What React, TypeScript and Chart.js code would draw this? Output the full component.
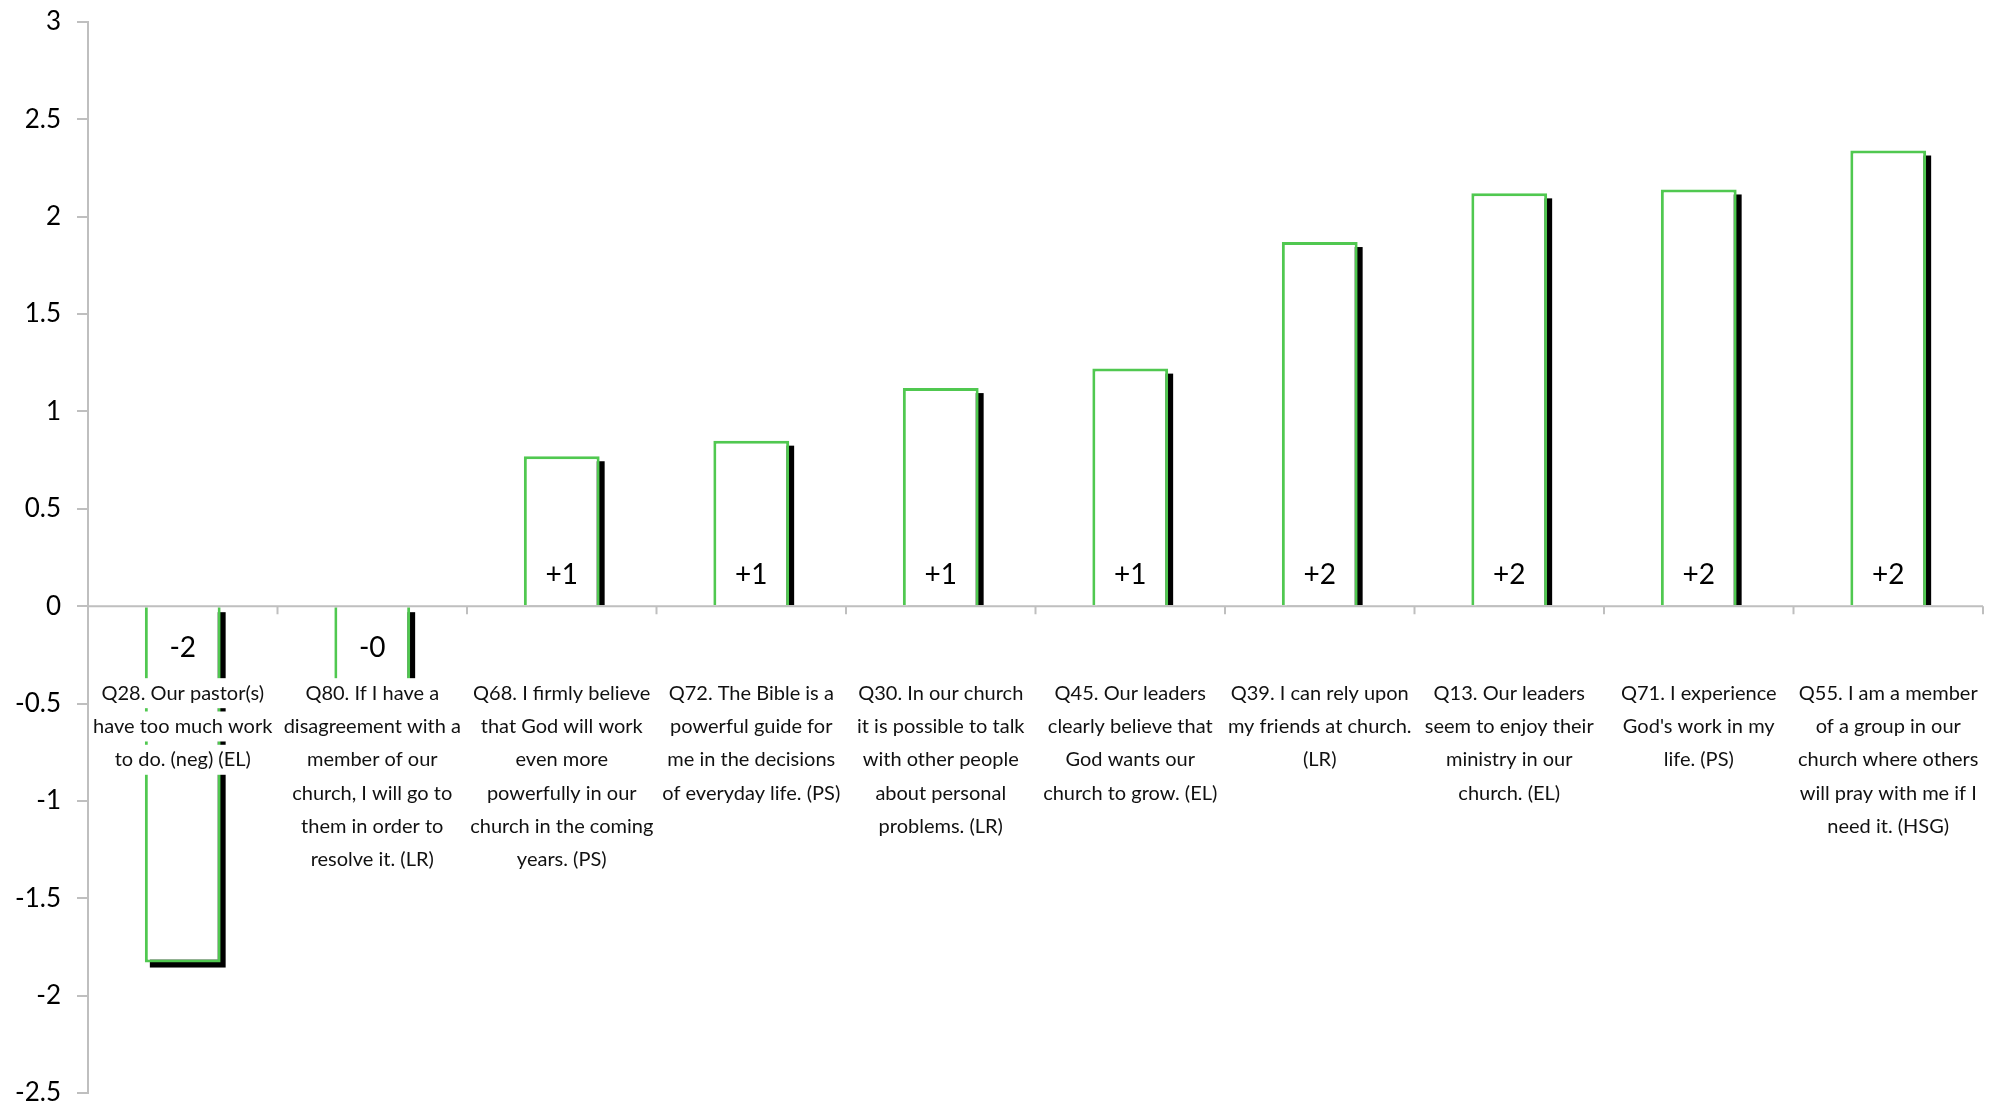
import React, { useEffect, useRef } from "react";
import { Chart, registerables } from "chart.js";

Chart.register(...registerables);

const categories: string[][] = [
  ["Q28. Our pastor(s)", "have too much work", "to do. (neg) (EL)"],
  ["Q80. If I have a", "disagreement with a", "member of our", "church, I will go to", "them in order to", "resolve it. (LR)"],
  ["Q68. I firmly believe", "that God will work", "even more", "powerfully in our", "church in the coming", "years. (PS)"],
  ["Q72. The Bible is a", "powerful guide for", "me in the decisions", "of everyday life. (PS)"],
  ["Q30. In our church", "it is possible to talk", "with other people", "about personal", "problems. (LR)"],
  ["Q45. Our leaders", "clearly believe that", "God wants our", "church to grow. (EL)"],
  ["Q39. I can rely upon", "my friends at church.", "(LR)"],
  ["Q13. Our leaders", "seem to enjoy their", "ministry in our", "church. (EL)"],
  ["Q71. I experience", "God's work in my", "life. (PS)"],
  ["Q55. I am a member", "of a group in our", "church where others", "will pray with me if I", "need it. (HSG)"],
];

const values: number[] = [-1.83, -0.45, 0.77, 0.85, 1.12, 1.22, 1.87, 2.12, 2.14, 2.34];

const yTicks: number[] = [-2.5, -2, -1.5, -1, -0.5, 0, 0.5, 1, 1.5, 2, 2.5, 3];

const FONT = "Lato, 'Liberation Sans', sans-serif";
const GREEN = "#50C850";
const GREY = "#BFBFBF";

function valueLabel(v: number): string {
  const r = Math.round(Math.abs(v));
  return (v < 0 ? "-" : "+") + r;
}

const decorPlugin = {
  id: "decor",
  beforeDatasetsDraw(chart: any) {
    const ctx = chart.ctx;
    const meta = chart.getDatasetMeta(0);
    ctx.save();
    ctx.fillStyle = "#000";
    meta.data.forEach((bar: any) => {
      const p = bar.getProps(["x", "y", "base", "width"], true);
      const left = p.x - p.width / 2 + 5;
      const top = Math.min(p.y, p.base) + 5;
      let bottom = Math.max(p.y, p.base) + 5;
      if (p.y < p.base) bottom = p.base;
      ctx.fillRect(left, top, p.width, bottom - top);
    });
    ctx.restore();
  },
  afterDraw(chart: any) {
    const ctx = chart.ctx;
    const xs = chart.scales.x;
    const ys = chart.scales.y;
    const zero = ys.getPixelForValue(0);
    const step = xs.getPixelForValue(1) - xs.getPixelForValue(0);
    ctx.save();
    ctx.strokeStyle = GREY;
    ctx.lineWidth = 2;
    ctx.beginPath();
    ctx.moveTo(chart.chartArea.left, zero);
    ctx.lineTo(chart.chartArea.right, zero);
    for (let i = 0; i < categories.length; i++) {
      const bx = xs.getPixelForValue(i) + step / 2;
      ctx.moveTo(bx, zero);
      ctx.lineTo(bx, zero + 8);
    }
    ctx.stroke();

    const meta = chart.getDatasetMeta(0);
    ctx.fillStyle = "#000";
    ctx.textAlign = "center";
    ctx.textBaseline = "middle";
    ctx.font = `28px ${FONT}`;
    meta.data.forEach((bar: any, i: number) => {
      const v = values[i];
      const y = v >= 0 ? zero - 31 : zero + 42;
      ctx.fillText(valueLabel(v), bar.x, y);
    });

    ctx.font = `20px ${FONT}`;
    const pitch = 33.3;
    categories.forEach((lines, i) => {
      const cx = xs.getPixelForValue(i);
      lines.forEach((line, j) => {
        const cy = zero + 87 + j * pitch;
        const w = ctx.measureText(line).width;
        ctx.fillStyle = "#fff";
        ctx.fillRect(cx - w / 2 - 2, cy - 15, w + 4, 30);
        ctx.fillStyle = "#111";
        ctx.fillText(line, cx, cy);
      });
    });
    ctx.restore();
  },
};

export default function App() {
  const ref = useRef<HTMLCanvasElement | null>(null);
  useEffect(() => {
    if (!ref.current) return;
    const chart = new Chart(ref.current, {
      type: "bar",
      data: {
        labels: categories.map((c) => c.join(" ")),
        datasets: [
          {
            data: values,
            backgroundColor: "#fff",
            borderColor: GREEN,
            borderWidth: 3,
            borderSkipped: "start",
            barPercentage: 0.4,
            categoryPercentage: 1,
          },
        ],
      },
      options: {
        animation: false,
        responsive: true,
        maintainAspectRatio: false,
        layout: { padding: { left: 0, top: 22, right: 10, bottom: 13 } },
        plugins: { legend: { display: false }, tooltip: { enabled: false } },
        scales: {
          x: { display: false },
          y: {
            z: 1,
            min: -2.5,
            max: 3,
            afterFit: (s: any) => {
              s.width = 88;
              s.paddingTop = 0;
              s.paddingBottom = 0;
            },
            afterBuildTicks: (s: any) => {
              s.ticks = yTicks.map((v) => ({ value: v }));
            },
            ticks: {
              stepSize: 0.5,
              padding: 16,
              color: "#000",
              font: { family: FONT, size: 26 },
              callback: (v: any) => String(v),
            },
            grid: {
              drawOnChartArea: false,
              drawTicks: true,
              tickLength: 11,
              tickColor: GREY,
              lineWidth: 2,
            },
            border: { display: true, color: GREY, width: 2 },
          },
        },
      },
      plugins: [decorPlugin],
    });
    return () => chart.destroy();
  }, []);
  return (
    <div style={{ position: "fixed", left: 0, top: 0, width: 1993, height: 1106, background: "#fff" }}>
      <canvas ref={ref} />
    </div>
  );
}
